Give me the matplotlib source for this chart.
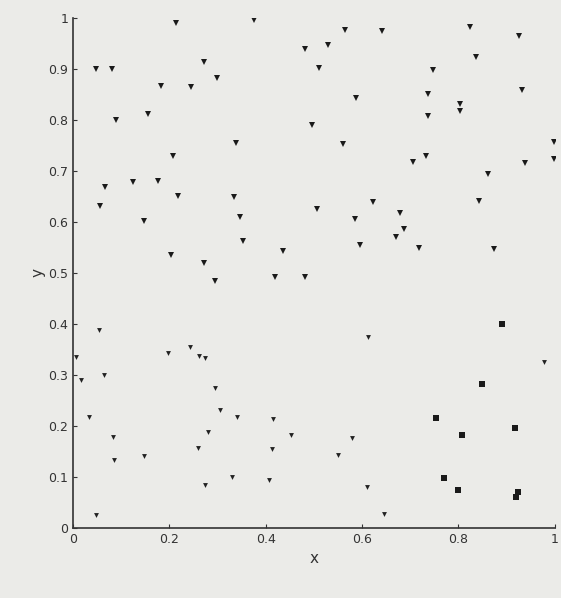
import numpy as np
import matplotlib
matplotlib.use('Agg')
import matplotlib.pyplot as plt

# Triángulos grandes (parte superior)
x_tri = [0.214, 0.376, 0.047, 0.081, 0.272, 0.298, 0.183, 0.246, 0.089, 0.156,
         0.338, 0.207, 0.066, 0.125, 0.176, 0.219, 0.056, 0.334, 0.148, 0.346,
         0.353, 0.203, 0.272, 0.436, 0.294, 0.420,
         0.564, 0.641, 0.824, 0.925, 0.481, 0.529, 0.510, 0.836, 0.747, 0.587,
         0.737, 0.932, 0.803, 0.803, 0.737, 0.496, 0.560, 0.998, 0.998, 0.938,
         0.732, 0.705, 0.861, 0.842, 0.506, 0.585, 0.622, 0.678, 0.687, 0.670,
         0.595, 0.718, 0.873, 0.481]
y_tri = [0.990, 0.995, 0.900, 0.900, 0.913, 0.882, 0.867, 0.865, 0.799, 0.811,
         0.754, 0.730, 0.669, 0.679, 0.680, 0.650, 0.631, 0.648, 0.601, 0.609,
         0.563, 0.536, 0.520, 0.544, 0.484, 0.492,
         0.977, 0.974, 0.982, 0.964, 0.939, 0.947, 0.901, 0.924, 0.897, 0.844,
         0.850, 0.858, 0.832, 0.818, 0.808, 0.791, 0.752, 0.757, 0.724, 0.715,
         0.730, 0.717, 0.695, 0.642, 0.625, 0.606, 0.640, 0.618, 0.587, 0.570,
         0.555, 0.549, 0.548, 0.492]

# Triángulos pequeños (parte inferior)
x_small = [0.054, 0.006, 0.017, 0.064, 0.197, 0.243, 0.261, 0.274, 0.295, 0.305,
           0.340, 0.033, 0.083, 0.280, 0.415, 0.452, 0.085, 0.147, 0.259, 0.413,
           0.274, 0.330, 0.407, 0.048, 0.612, 0.977, 0.579, 0.550, 0.610, 0.645]
y_small = [0.388, 0.335, 0.290, 0.300, 0.344, 0.355, 0.337, 0.333, 0.275, 0.232,
           0.217, 0.218, 0.179, 0.189, 0.214, 0.182, 0.134, 0.142, 0.157, 0.155,
           0.085, 0.100, 0.094, 0.025, 0.375, 0.325, 0.176, 0.144, 0.081, 0.027]

# Cuadrados (esquina inferior derecha)
x_sq = [0.890, 0.849, 0.753, 0.807, 0.917, 0.770, 0.799, 0.923, 0.920]
y_sq = [0.400, 0.283, 0.215, 0.182, 0.197, 0.098, 0.075, 0.070, 0.060]

fig = plt.figure(figsize=(5.61, 5.98), dpi=100)
fig.patch.set_facecolor('#ebebe8')
ax = fig.add_axes([0.13, 0.117, 0.859, 0.853])
ax.set_facecolor('#ebebe8')

ax.plot(x_tri, y_tri, 'v', color='#1a1a1a', markersize=5, markeredgewidth=0)
ax.plot(x_small, y_small, 'v', color='#222222', markersize=3.5, markeredgewidth=0)
ax.plot(x_sq, y_sq, 's', color='#1a1a1a', markersize=5, markeredgewidth=0)

ax.set_xlim(0, 1)
ax.set_ylim(0, 1)
ax.set_xticks([0, 0.2, 0.4, 0.6, 0.8, 1])
ax.set_xticklabels(['0', '0.2', '0.4', '0.6', '0.8', '1'])
ax.set_yticks(np.arange(0, 1.01, 0.1))
ax.set_yticklabels(['0', '0.1', '0.2', '0.3', '0.4', '0.5', '0.6', '0.7', '0.8', '0.9', '1'])
ax.tick_params(direction='in', length=3, labelsize=9, colors='#333333')
ax.spines['top'].set_visible(False)
ax.spines['right'].set_visible(False)
ax.spines['left'].set_color('#333333')
ax.spines['bottom'].set_color('#333333')
ax.spines['left'].set_linewidth(1.2)
ax.spines['bottom'].set_linewidth(1.2)
ax.set_xlabel('x', fontsize=11, color='#333333')
ax.set_ylabel('y', fontsize=11, color='#333333', labelpad=2)

plt.savefig('out.png', dpi=100, facecolor=fig.get_facecolor())
